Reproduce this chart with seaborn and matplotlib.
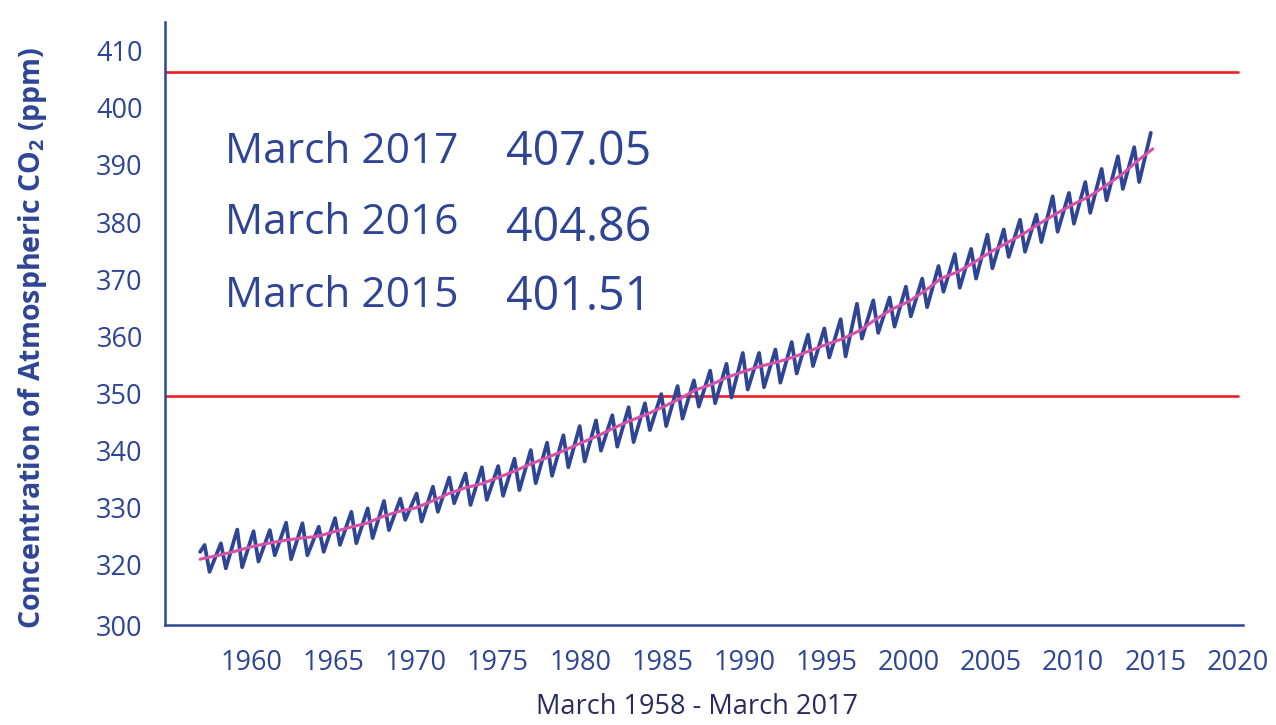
import numpy as np
import pandas as pd
import matplotlib
matplotlib.use("Agg")
import matplotlib.pyplot as plt
import seaborn as sns

# ---------------- data ----------------
cycle_years = list(range(1957, 2015))
peaks = [323.5, 323.8, 326.2, 325.9, 326.1, 327.4, 327.3, 326.7, 328.2, 329.3,
         329.9, 331.2, 331.6, 332.5, 333.7, 335.3, 336.0, 337.1, 337.3, 338.6,
         340.1, 341.4, 342.7, 344.3, 345.3, 346.2, 347.6, 348.3, 349.9, 351.3,
         352.3, 354.0, 355.2, 357.1, 357.1, 357.7, 359.0, 360.3, 361.4, 363.0,
         365.7, 366.3, 366.8, 368.7, 370.1, 372.3, 374.4, 375.3, 377.8, 378.7,
         380.4, 381.3, 384.5, 385.1, 387.0, 389.3, 391.5, 393.1]
troughs = [318.8, 319.4, 319.6, 320.6, 321.7, 321.0, 321.7, 322.3, 323.5, 323.8,
           324.7, 326.1, 327.9, 327.6, 329.3, 330.8, 330.5, 331.4, 332.1, 333.1,
           334.3, 335.6, 337.1, 338.1, 340.0, 340.7, 341.5, 343.6, 344.3, 345.6,
           347.7, 348.3, 349.3, 350.7, 351.1, 351.9, 353.5, 354.8, 356.3, 356.5,
           359.6, 360.6, 361.7, 363.5, 365.1, 367.8, 368.5, 370.1, 371.9, 373.9,
           374.8, 376.5, 378.3, 379.7, 381.6, 383.8, 385.8, 387.0]
first_peak_time, last_peak_time = 1957.14, 2013.72
trough_lag = 0.3
series_start = (1956.87, 322.3)
series_end = (2014.73, 395.6)

trend_years = [1956.87] + list(range(1957, 2015)) + [2014.85]
trend_values = [321.0,
                321.1, 321.7, 322.4, 323.2, 323.8, 324.3, 324.7, 325.0, 325.8, 326.6,
                327.3, 328.5, 329.4, 330.0, 331.2, 332.5, 333.5, 334.2, 335.3, 336.4,
                337.7, 338.8, 340.0, 341.3, 342.5, 343.9, 345.2, 346.3, 347.6, 349.0,
                350.6, 351.6, 352.9, 353.9, 354.8, 355.5, 356.4, 357.5, 358.6, 359.6,
                361.0, 363.0, 364.8, 366.1, 368.0, 370.2, 371.3, 373.0, 374.8, 376.4,
                378.0, 379.8, 381.5, 383.1, 384.5, 386.4, 388.4, 390.9,
                392.8]

reference_levels = [406.2, 349.6]

y_tick_values = [309.5, 320, 330, 340, 350, 360, 370, 380, 390, 400, 410]
y_tick_labels = ["300", "320", "330", "340", "350", "360", "370", "380", "390", "400", "410"]
x_tick_values = list(range(1960, 2021, 5))

readings = [("March 2017", "407.05"), ("March 2016", "404.86"), ("March 2015", "401.51")]
x_label = "March 1958 - March 2017"
y_label = r"Concentration of Atmospheric CO$_\mathbf{2}$ (ppm)"

# ---------------- build tables ----------------
peak_times = np.linspace(first_peak_time, last_peak_time, len(cycle_years))
t, v = [series_start[0]], [series_start[1]]
for pt, pk, tr in zip(peak_times, peaks, troughs):
    t += [pt, pt + trough_lag]
    v += [pk, tr]
t.append(series_end[0]); v.append(series_end[1])
monthly = pd.DataFrame({"year": t, "ppm": v})
trend = pd.DataFrame({"year": trend_years, "ppm": trend_values})

# ---------------- style ----------------
sns.set_style("white")
plt.rcParams["font.family"] = ["Open Sans", "DejaVu Sans"]
plt.rcParams["mathtext.fontset"] = "custom"
plt.rcParams["mathtext.rm"] = "Open Sans"
plt.rcParams["mathtext.bf"] = "Open Sans:bold"

BLUE = "#2E4596"
PINK = "#D552A8"
RED = "#EE1C25"
NAVY = "#2B2A5E"

fig = plt.figure(figsize=(12.76, 7.25), dpi=100)
ax = fig.add_axes([165 / 1276, 100 / 725, (1243 - 165) / 1276, (625 - 22) / 725])

for lvl in reference_levels:
    ax.axhline(lvl, xmin=0, xmax=0.995, color=RED, lw=1.9, zorder=1)

sns.lineplot(data=monthly, x="year", y="ppm", ax=ax, color=BLUE, lw=2.7,
             estimator=None, sort=False, zorder=2)
sns.lineplot(data=trend, x="year", y="ppm", ax=ax, color=PINK, lw=2.2,
             estimator=None, sort=False, zorder=3)

ax.set_xlim(1954.73, 2020.34)
ax.set_ylim(309.5, 415.0)
ax.set_yticks(y_tick_values)
ax.set_yticklabels(y_tick_labels)
ax.set_xticks(x_tick_values)
ax.set_xticklabels([str(x) for x in x_tick_values])
ax.set_xlabel("")
ax.set_ylabel("")

for s in ["top", "right"]:
    ax.spines[s].set_visible(False)
for s in ["left", "bottom"]:
    ax.spines[s].set_color(BLUE)
    ax.spines[s].set_linewidth(1.8)

ax.tick_params(axis="both", direction="out", colors=BLUE, labelcolor=BLUE,
               labelsize=19.5, width=1.8)
ax.tick_params(axis="y", length=10, pad=6)
ax.tick_params(axis="x", length=11, pad=6)
ax.xaxis.get_major_ticks()[-1].tick1line.set_visible(False)
ax.yaxis.get_major_ticks()[0].tick1line.set_visible(False)

# annotation block
label_x, value_x = 225 / 1276, 506 / 1276
label_base = [163, 234, 307]
value_base = [165, 241, 310]
for (lab, val), lb, vb in zip(readings, label_base, value_base):
    fig.text(label_x, 1 - lb / 725, lab, color=BLUE, fontsize=30.5, va="baseline", ha="left")
    fig.text(value_x, 1 - vb / 725, val, color=BLUE, fontsize=33.5, va="baseline", ha="left")

fig.text(697 / 1276, 1 - 714 / 725, x_label, color=NAVY, fontsize=19.5,
         ha="center", va="baseline")
fig.text(33 / 1276, 1 - 338 / 725, y_label, color=BLUE, fontsize=20.5,
         fontweight="bold", rotation=90, ha="center", va="center")

fig.savefig("out.png", dpi=100)
